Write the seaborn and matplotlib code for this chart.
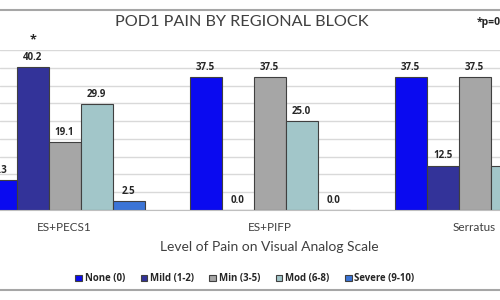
import seaborn as sns
import matplotlib.pyplot as plt
import pandas as pd
from matplotlib.patches import Rectangle

# data (% of patients per pain level)
blocks = ["ES+PECS1", "ES+PIFP", "Serratus"]
levels = ["None (0)", "Mild (1-2)", "Min (3-5)", "Mod (6-8)", "Severe (9-10)"]
none_vals = [8.3, 37.5, 37.5]
mild_vals = [40.2, 0.0, 12.5]
min_vals = [19.1, 37.5, 37.5]
mod_vals = [29.9, 25.0, 12.5]
severe_vals = [2.5, 0.0, 0.0]
colors = ["#0A0AF0", "#333399", "#A6A6A6", "#A2C6C9", "#3B74D6"]

series = [none_vals, mild_vals, min_vals, mod_vals, severe_vals]
rows = []
for lvl, vals in zip(levels, series):
    for b, v in zip(blocks, vals):
        rows.append({"block": b, "level": lvl, "pct": v})
df = pd.DataFrame(rows)

sns.set_style("white")
plt.rcParams["font.family"] = ["Lato", "DejaVu Sans"]
bold_font = ["Open Sans", "DejaVu Sans"]

fig = plt.figure(figsize=(5, 3), dpi=100)
ax = fig.add_axes([0, 0.30, 1, 0.5333])

sns.barplot(data=df, x="block", y="pct", hue="level", order=blocks,
            hue_order=levels, palette=colors, saturation=1, width=0.78, ax=ax,
            edgecolor="#404040", linewidth=0.8, errorbar=None)

ax.set_ylim(0, 45)
ax.set_xlim(-0.315, 2.124)
ax.set_yticks(range(0, 46, 5))
ax.yaxis.grid(True, color="#D9D9D9", linewidth=1)
ax.set_axisbelow(True)
ax.tick_params(axis="y", left=False, labelleft=False)
ax.tick_params(axis="x", bottom=False, labelsize=8.5, labelcolor="#404040", pad=5)
for s in ["top", "left", "right"]:
    ax.spines[s].set_visible(False)
ax.spines["bottom"].set_color("#BFBFBF")
ax.set_ylabel("")
ax.set_xlabel("Level of Pain on Visual Analog Scale", fontsize=10,
              color="#404040", labelpad=6)
ax.xaxis.label.set_x(0.538)

for c in ax.containers:
    ax.bar_label(c, fmt="%.1f", padding=3, fontsize=7, fontweight="bold",
                 color="#262626", family=bold_font)

# significance star on ES+PECS1 mild
star_bar = ax.containers[1].patches[0]
ax.annotate("*", (star_bar.get_x() + star_bar.get_width() / 2, star_bar.get_height()),
            xytext=(0, 15), textcoords="offset points", ha="center", va="bottom",
            fontsize=9, fontweight="bold", color="#262626", annotation_clip=False,
            family=bold_font)

fig.text(0.484, 0.925, "POD1 PAIN BY REGIONAL BLOCK", ha="center", va="center",
         fontsize=11.7, color="#404040")
fig.text(0.954, 0.925, "*p=0.05", ha="left", va="center", fontsize=7.5,
         fontweight="bold", color="#262626", family=bold_font)

ax.legend(loc="center", bbox_to_anchor=(0.49, -0.43), ncol=5, frameon=False,
          handlelength=0.7, handleheight=0.7, handletextpad=0.3,
          columnspacing=1.6, prop={"weight": "bold", "size": 6.9, "family": bold_font})

# chart frame lines
fig.patches.append(Rectangle((-0.01, 10 / 300), 1.02, 280 / 300, transform=fig.transFigure,
                             fill=False, edgecolor="#A6A6A6", linewidth=1.5))

fig.savefig("out.png", dpi=100)
